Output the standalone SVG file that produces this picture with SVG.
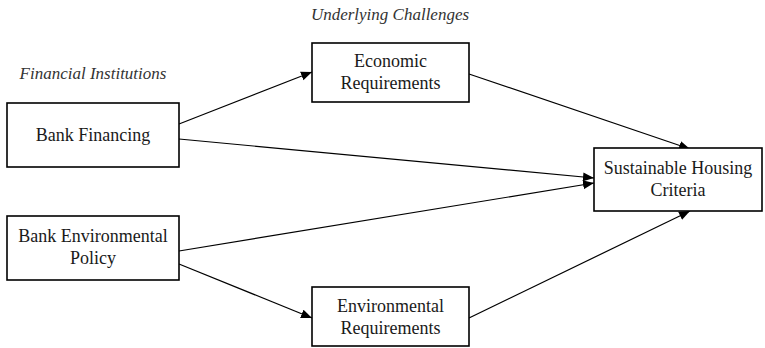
<svg xmlns="http://www.w3.org/2000/svg" width="765" height="348" viewBox="0 0 765 348">
<style>
.box{fill:#fff;stroke:#000;stroke-width:1.6}
.t{font-family:"Liberation Serif","Times New Roman",serif;font-size:18px;fill:#1a1a1a;text-anchor:middle}
.it{font-family:"Liberation Serif","Times New Roman",serif;font-size:17px;font-style:italic;fill:#333;text-anchor:middle}
.c{stroke:#000;stroke-width:1.2;fill:none;marker-end:url(#ah)}
</style>
<defs>
<marker id="ah" markerUnits="userSpaceOnUse" markerWidth="12" markerHeight="10" refX="11" refY="5" orient="auto">
<path d="M0,0.5 L11,5 L0,9.5 Z" fill="#000"/>
</marker>
</defs>
<rect width="765" height="348" fill="#fff"/>
<text class="it" x="390" y="20">Underlying Challenges</text>
<text class="it" x="93" y="79">Financial Institutions</text>
<g id="connectors">
<line class="c" x1="179" y1="124" x2="312" y2="72"/>
<line class="c" x1="179" y1="139" x2="594" y2="178"/>
<line class="c" x1="179" y1="251" x2="594" y2="183"/>
<line class="c" x1="179" y1="264" x2="312" y2="318"/>
<line class="c" x1="469" y1="74" x2="690" y2="149"/>
<line class="c" x1="469" y1="318" x2="690" y2="211"/>
</g>
<g id="bank-financing">
<rect class="box" x="7" y="103" width="172" height="64"/>
<text class="t" x="93" y="141">Bank Financing</text>
</g>
<g id="bank-environmental-policy">
<rect class="box" x="7" y="216" width="172" height="64"/>
<text class="t" x="93" y="242">Bank Environmental</text>
<text class="t" x="93" y="264">Policy</text>
</g>
<g id="economic-requirements">
<rect class="box" x="312" y="43" width="157" height="59"/>
<text class="t" x="390.5" y="67">Economic</text>
<text class="t" x="390.5" y="89">Requirements</text>
</g>
<g id="environmental-requirements">
<rect class="box" x="312" y="287" width="157" height="59"/>
<text class="t" x="390.5" y="312">Environmental</text>
<text class="t" x="390.5" y="334">Requirements</text>
</g>
<g id="sustainable-housing-criteria">
<rect class="box" x="594" y="148" width="168" height="63"/>
<text class="t" x="678" y="174">Sustainable Housing</text>
<text class="t" x="678" y="196">Criteria</text>
</g>
</svg>
